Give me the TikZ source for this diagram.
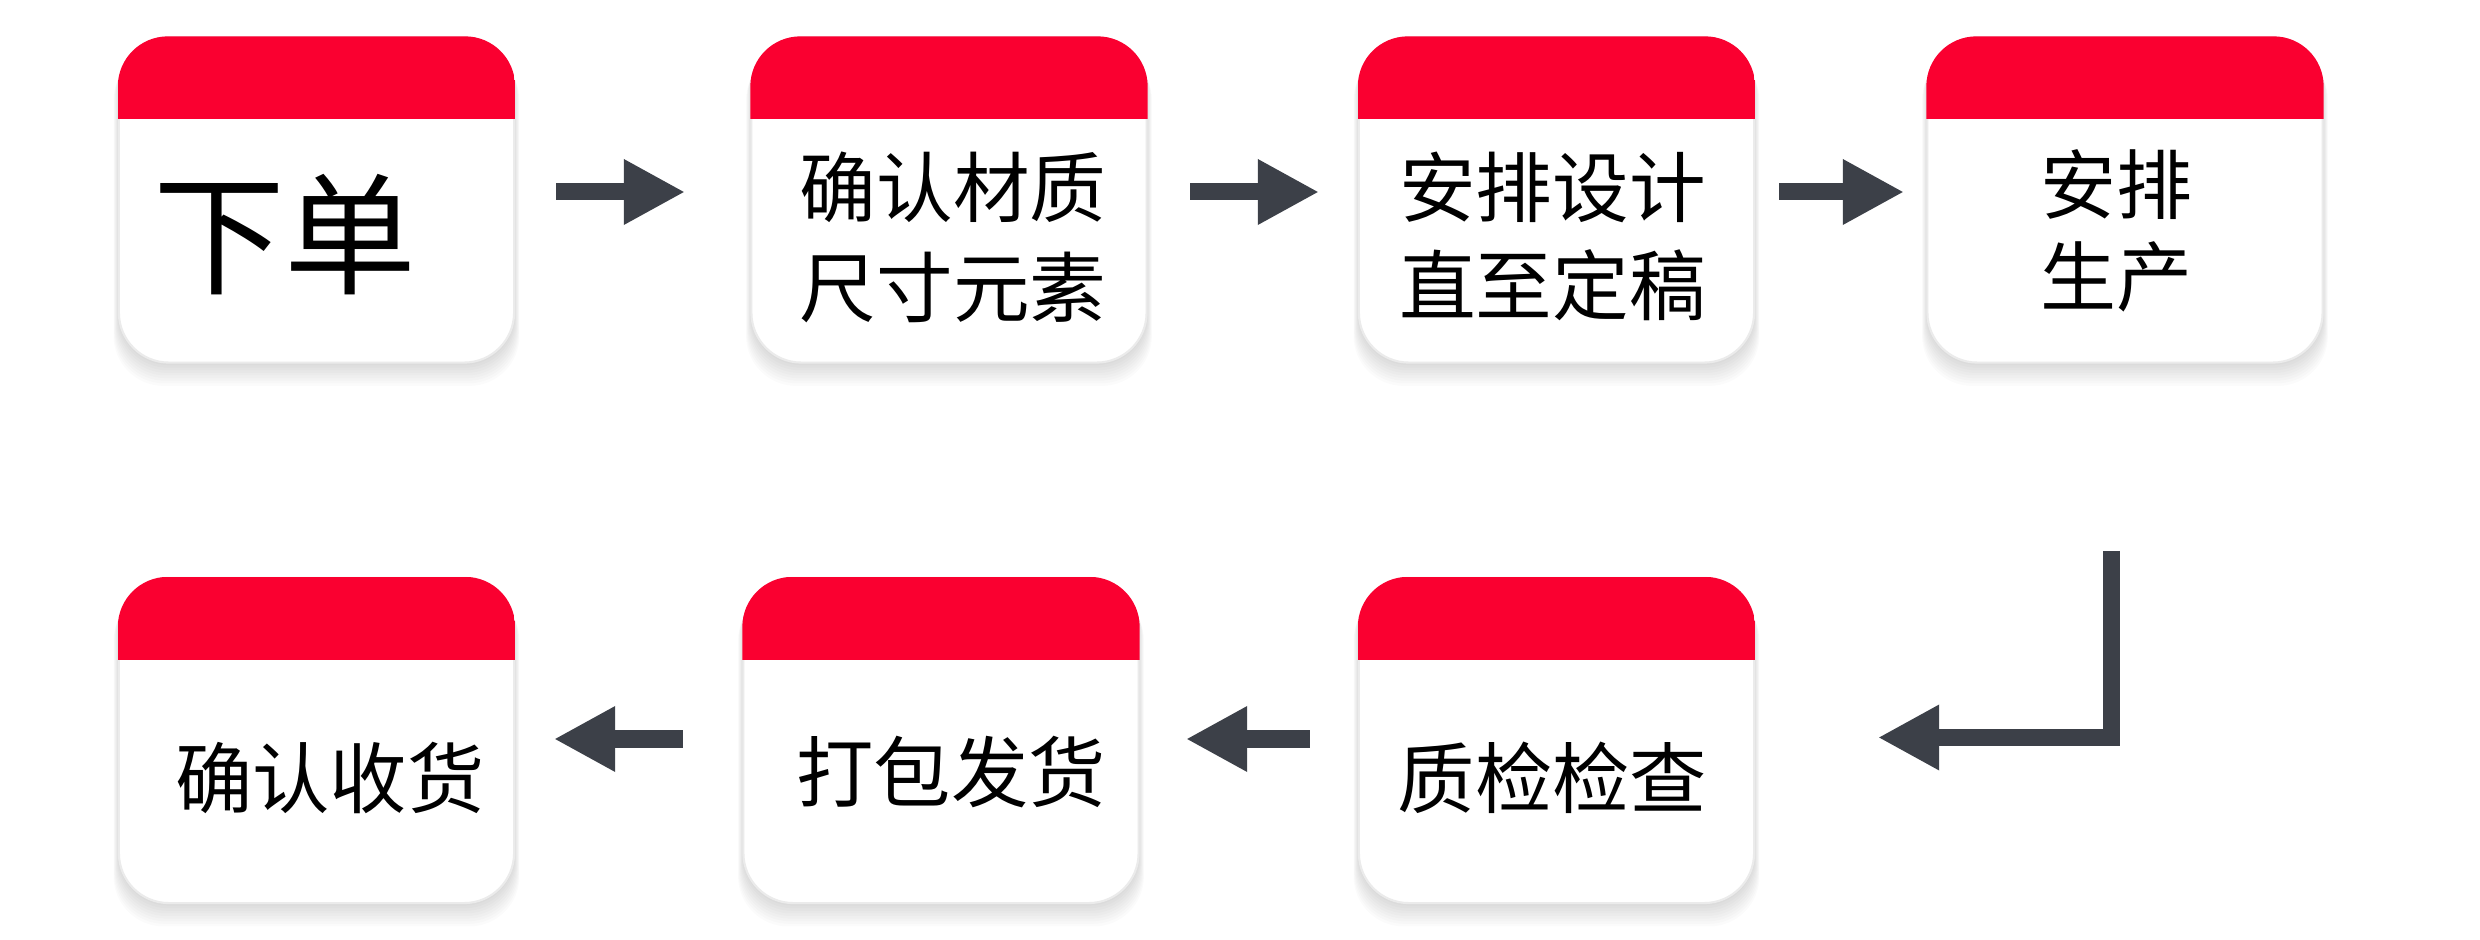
\documentclass[tikz,border=0pt]{standalone}
\usepackage{fontspec}
\newfontfamily\cjk{Noto Sans CJK SC}
\usetikzlibrary{arrows.meta,calc}
\definecolor{capred}{RGB}{250,0,48}
\definecolor{arrgray}{RGB}{60,64,72}
\tikzset{
  card/.style={minimum width=3.95cm, minimum height=3.25cm, inner sep=0pt,
    fill=white, draw=black!8, line width=0.6pt, rounded corners=0.5cm},
  lbl/.style={inner sep=0pt, align=center, text=black},
  arr/.style={draw=arrgray, line width=0.17cm, line join=miter,
    -{Triangle[length=0.6cm, width=0.66cm, line width=0pt]}},
}
\newcommand\stepcard[3]{%
  \foreach \s in {1,...,9}{%
    \fill[black, opacity=0.016, rounded corners=0.5cm]
      (#2-197.5-\s*0.6, #3-162.5+\s*1.4) rectangle (#2+197.5+\s*0.6, #3+162.5+\s*2.6);
  }
  \node[card] (#1) at (#2,#3) {};
  \begin{scope}
    \clip[rounded corners=0.5cm] (#1.south west) rectangle (#1.north east);
    \fill[capred] (#1.north west) rectangle ([yshift=-0.83cm]#1.north east);
  \end{scope}
}
\begin{document}
\begin{tikzpicture}[x=0.01cm, y=-0.01cm]
\fill[white] (0,0) rectangle (2480,940);
\useasboundingbox (0,0) rectangle (2480,940);

\stepcard{B1}{316.5}{200}
\stepcard{B2}{949}{200}
\stepcard{B3}{1556.5}{200}
\stepcard{B4}{2125}{200}
\stepcard{B5}{316.5}{740.5}
\stepcard{B6}{941}{740.5}
\stepcard{B7}{1556.5}{740.5}

\node[lbl, font=\cjk\fontsize{37.5pt}{40pt}\selectfont] (T1) at (285,235) {下单};
\node[lbl, font=\cjk\fontsize{21.8pt}{28.45pt}\selectfont] (T2) at (953,237) {确认材质\\尺寸元素};
\node[lbl, font=\cjk\fontsize{21.8pt}{27.9pt}\selectfont] (T3) at (1552.5,236) {安排设计\\直至定稿};
\node[lbl, font=\cjk\fontsize{21.6pt}{26.2pt}\selectfont] (T4) at (2116,231) {安排\\生产};
\node[lbl, font=\cjk\fontsize{22pt}{28pt}\selectfont] (T5) at (330,778) {确认收货};
\node[lbl, font=\cjk\fontsize{22pt}{28pt}\selectfont] (T6) at (951,772) {打包发货};
\node[lbl, font=\cjk\fontsize{22pt}{28pt}\selectfont] (T7) at (1552.5,778) {质检检查};

\draw[arr] ($(B1.east)+(41,-8)$) -- ($(B2.west)+(-66.5,-8)$);
\draw[arr] ($(B2.east)+(42.5,-8)$) -- ($(B3.west)+(-40,-8)$);
\draw[arr] ($(B3.east)+(24,-8)$) -- ($(B4.west)+(-23.5,-8)$);

\coordinate (E0) at (2111.5,551);
\draw[arr] (E0) |- ($(B7.east)+(124,-3)$);
\draw[arr] ($(B7.west)+(-48,-1.5)$) -- ($(B6.east)+(47.5,-1.5)$);
\draw[arr] ($(B6.west)+(-59.5,-1.5)$) -- ($(B5.east)+(40,-1.5)$);
\end{tikzpicture}
\end{document}
